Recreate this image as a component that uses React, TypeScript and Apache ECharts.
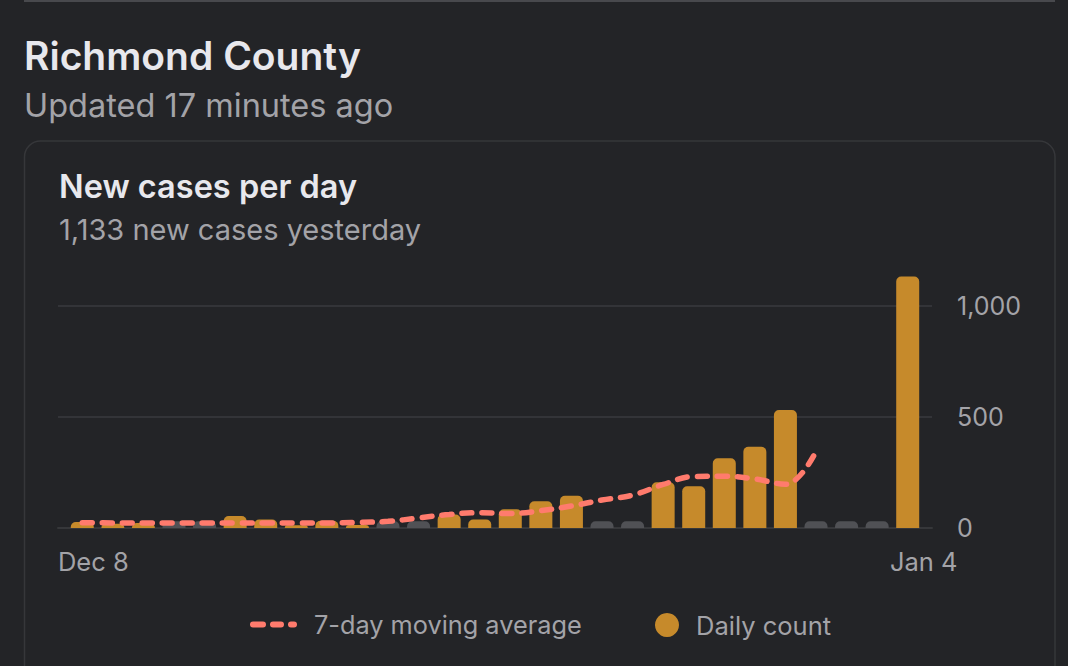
import React, { useEffect, useRef } from "react";
import * as echarts from "echarts";

const days = [
  "Dec 8", "Dec 9", "Dec 10", "Dec 11", "Dec 12", "Dec 13", "Dec 14",
  "Dec 15", "Dec 16", "Dec 17", "Dec 18", "Dec 19", "Dec 20", "Dec 21",
  "Dec 22", "Dec 23", "Dec 24", "Dec 25", "Dec 26", "Dec 27", "Dec 28",
  "Dec 29", "Dec 30", "Dec 31", "Jan 1", "Jan 2", "Jan 3", "Jan 4",
];
const dailyCount = [
  27, 19, 22, null, null, 54, 38, 12, 33, 14, null, null, 61, 38,
  84, 120, 145, null, null, 206, 188, 314, 366, 531, null, null, null, 1133,
];
const noReport = [
  null, null, null, 30, 30, null, null, null, null, null, 30, 30, null, null,
  null, null, null, 30, 30, null, null, null, null, null, 30, 30, 30, null,
];
const movingAvg = [
  24, 23, 23, 23, 23, 23, 23, 23, 23, 25, 30, 45, 61, 69,
  65, 78, 99, 126, 148, 196, 232, 233, 221, 197, 345,
];
const yTicks = [0, 500, 1000];
const shownLabels = ["Dec 8", "Jan 4"];

const BG = "#232427";
const WHITE = "#E8E8ED";
const GREY = "#A3A3A8";
const GOLD = "#C68A2B";
const SALMON = "#FF7B6D";

const DASH_ICON =
  "path://M3,0H13A3,3 0 0 1 13,6H3A3,3 0 0 1 3,0Z" +
  "M23,0H31A3,3 0 0 1 31,6H23A3,3 0 0 1 23,0Z" +
  "M41,0H44A3,3 0 0 1 44,6H41A3,3 0 0 1 41,0Z";

export default function App() {
  const ref = useRef<HTMLDivElement>(null);
  useEffect(() => {
    if (!ref.current) return;
    const chart = echarts.init(ref.current, null, { renderer: "svg" });
    const font = "Inter, 'Noto Sans', sans-serif";
    const yMin = yTicks[0];
    const yMax = yTicks[yTicks.length - 1];
    const yInt = yTicks[1] - yTicks[0];
    chart.setOption({
      animation: false,
      backgroundColor: BG,
      textStyle: { fontFamily: font },
      graphic: [
        { type: "rect", shape: { x: 24, y: 0, width: 1031, height: 2 }, style: { fill: "#48494D" } },
        {
          type: "rect",
          shape: { x: 24.5, y: 141, width: 1030.5, height: 600, r: 16 },
          style: { fill: "none", stroke: "#36373A", lineWidth: 1.5 },
        },
        {
          type: "text", x: 24, y: 55,
          style: { text: "Richmond County", fill: WHITE, font: `600 39px ${font}`, verticalAlign: "middle" },
        },
        {
          type: "text", x: 24, y: 105,
          style: { text: "Updated 17 minutes ago", fill: GREY, font: `400 32.5px ${font}`, verticalAlign: "middle" },
        },
        {
          type: "text", x: 59, y: 186,
          style: { text: "New cases per day", fill: WHITE, font: `600 32.5px ${font}`, verticalAlign: "middle" },
        },
        {
          type: "text", x: 59, y: 229,
          style: { text: "1,133 new cases yesterday", fill: GREY, font: `400 29px ${font}`, verticalAlign: "middle" },
        },
      ],
      grid: [
        { left: 58, right: 136, top: 306, bottom: 138 },
        { left: 67, right: 145, top: 306, bottom: 138 },
      ],
      legend: [
        {
          data: [{ name: "7-day moving average", icon: DASH_ICON }],
          left: 245, top: 607,
          itemWidth: 47, itemHeight: 6,
          textStyle: { color: GREY, fontSize: 25.3, fontFamily: font, padding: [0, 0, 0, 12] },
          selectedMode: false,
        },
        {
          data: [{ name: "Daily count", icon: "circle" }],
          left: 650, top: 607,
          itemWidth: 24, itemHeight: 24,
          textStyle: { color: GREY, fontSize: 25.5, fontFamily: font, padding: [0, 0, 0, 12] },
          selectedMode: false,
        },
      ],
      xAxis: [
        {
          type: "category",
          gridIndex: 0,
          data: days,
          axisTick: { show: false },
          axisLabel: { show: false },
          axisLine: { show: true, lineStyle: { color: "#36373A", width: 2 } },
        },
        {
          type: "category",
          gridIndex: 1,
          data: days,
          axisTick: { show: false },
          axisLine: { show: false },
          axisLabel: {
            interval: (i: number, v: string) => shownLabels.includes(v),
            color: GREY,
            fontSize: 25.5,
            margin: 20,
            formatter: (v: string) => (v === shownLabels[0] ? `{a|${v}}` : `{b|${v}}`),
            rich: {
              a: { fontSize: 25.5, color: GREY, padding: [0, 0, 0, 22] },
              b: { fontSize: 25.5, color: GREY, padding: [0, 0, 0, 32] },
            },
          },
        },
      ],
      yAxis: [
        {
          type: "value",
          gridIndex: 0,
          position: "right",
          min: yMin,
          max: yMax,
          interval: yInt,
          axisLine: { show: false },
          axisTick: { show: false },
          splitLine: { lineStyle: { color: "#333438", width: 2 } },
          axisLabel: {
            color: GREY,
            fontSize: 25,
            margin: 25,
            align: "left",
            formatter: (v: number) => v.toLocaleString("en-US"),
          },
        },
        {
          type: "value",
          gridIndex: 1,
          min: yMin,
          max: yMax,
          interval: yInt,
          show: false,
          splitLine: { show: false },
        },
      ],
      series: [
        {
          name: "No report",
          type: "bar",
          xAxisIndex: 1,
          yAxisIndex: 1,
          data: noReport,
          barWidth: 23,
          barGap: "-100%",
          itemStyle: { color: "#505155", borderRadius: [5, 5, 0, 0] },
          z: 2,
        },
        {
          name: "Daily count",
          type: "bar",
          xAxisIndex: 1,
          yAxisIndex: 1,
          data: dailyCount,
          barWidth: 23,
          clip: false,
          itemStyle: { color: GOLD, borderRadius: [5, 5, 0, 0] },
          z: 2,
        },
        {
          name: "7-day moving average",
          type: "line",
          xAxisIndex: 1,
          yAxisIndex: 1,
          data: movingAvg,
          smooth: 0.4,
          symbol: "none",
          lineStyle: { color: SALMON, width: 5.5, type: [10, 10], cap: "round" },
          itemStyle: { color: SALMON },
          z: 5,
        },
      ],
    });
    return () => chart.dispose();
  }, []);
  return (
    <div
      ref={ref}
      style={{ position: "fixed", left: 0, top: 0, width: 1068, height: 666 }}
    />
  );
}
